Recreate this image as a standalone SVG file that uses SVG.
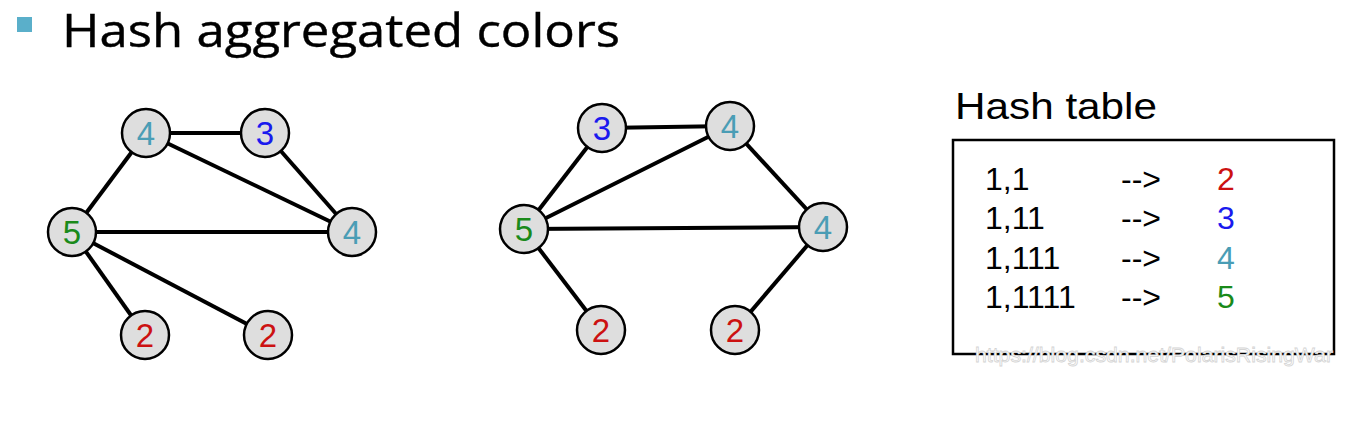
<svg xmlns="http://www.w3.org/2000/svg" width="1349" height="422" viewBox="0 0 1349 422">
<style>
.node circle{fill:#dedede;stroke:#000;stroke-width:2.5}
.node text{font-family:"Liberation Sans",Arial,sans-serif;font-size:33px;text-anchor:middle}
.edges line{stroke:#000;stroke-width:4}
.ht{font-family:"Liberation Sans",Arial,sans-serif;font-size:32px;fill:#000}
.c2{fill:#cc1111}.c3{fill:#1a1aee}.c4{fill:#4a9db5}.c5{fill:#1a8a1a}
</style>
<rect width="1349" height="422" fill="#fff"/>
<rect x="17" y="17" width="15" height="15" fill="#5aafca"/>
<text x="62" y="47" font-family="'Open Sans',sans-serif" font-size="46" fill="#000" stroke="#000" stroke-width="0.4" textLength="558" lengthAdjust="spacingAndGlyphs">Hash aggregated colors</text>
<g class="edges">
<line x1="146" y1="133" x2="265" y2="133"/>
<line x1="146" y1="133" x2="72" y2="232"/>
<line x1="146" y1="133" x2="352" y2="232"/>
<line x1="265" y1="133" x2="352" y2="232"/>
<line x1="72" y1="232" x2="352" y2="232"/>
<line x1="72" y1="232" x2="145" y2="335"/>
<line x1="72" y1="232" x2="268" y2="335"/>
<line x1="602" y1="128" x2="730" y2="126"/>
<line x1="602" y1="128" x2="524" y2="229"/>
<line x1="524" y1="229" x2="730" y2="126"/>
<line x1="730" y1="126" x2="823" y2="227"/>
<line x1="524" y1="229" x2="823" y2="227"/>
<line x1="524" y1="229" x2="601" y2="330"/>
<line x1="823" y1="227" x2="735" y2="330"/>
</g>
<g id="a4t" class="node"><circle cx="146" cy="133" r="24"/><text x="146" y="145" class="c4">4</text></g>
<g id="a3" class="node"><circle cx="265" cy="133" r="24"/><text x="265" y="145" class="c3">3</text></g>
<g id="a5" class="node"><circle cx="72" cy="232" r="24"/><text x="72" y="244" class="c5">5</text></g>
<g id="a4r" class="node"><circle cx="352" cy="232" r="24"/><text x="352" y="244" class="c4">4</text></g>
<g id="a2a" class="node"><circle cx="145" cy="335" r="24"/><text x="145" y="347" class="c2">2</text></g>
<g id="a2b" class="node"><circle cx="268" cy="335" r="24"/><text x="268" y="347" class="c2">2</text></g>
<g id="b3" class="node"><circle cx="602" cy="128" r="24"/><text x="602" y="140" class="c3">3</text></g>
<g id="b4t" class="node"><circle cx="730" cy="126" r="24"/><text x="730" y="138" class="c4">4</text></g>
<g id="b5" class="node"><circle cx="524" cy="229" r="24"/><text x="524" y="241" class="c5">5</text></g>
<g id="b4r" class="node"><circle cx="823" cy="227" r="24"/><text x="823" y="239" class="c4">4</text></g>
<g id="b2a" class="node"><circle cx="601" cy="330" r="24"/><text x="601" y="342" class="c2">2</text></g>
<g id="b2b" class="node"><circle cx="735" cy="330" r="24"/><text x="735" y="342" class="c2">2</text></g>
<g id="hashtable">
<text x="955" y="119" font-family="'Liberation Sans',Arial,sans-serif" font-size="37" fill="#000" textLength="202" lengthAdjust="spacingAndGlyphs">Hash table</text>
<rect x="953" y="140" width="381" height="214" fill="none" stroke="#000" stroke-width="2.5"/>
<text class="ht" x="985" y="190">1,1</text><text class="ht" x="1121" y="190">--&gt;</text><text class="ht c2" x="1217" y="190">2</text>
<text class="ht" x="985" y="229">1,11</text><text class="ht" x="1121" y="229">--&gt;</text><text class="ht c3" x="1217" y="229">3</text>
<text class="ht" x="985" y="269">1,111</text><text class="ht" x="1121" y="269">--&gt;</text><text class="ht c4" x="1217" y="269">4</text>
<text class="ht" x="985" y="308">1,1111</text><text class="ht" x="1121" y="308">--&gt;</text><text class="ht c5" x="1217" y="308">5</text>
</g>
<text x="975" y="362" font-family="'Liberation Sans',Arial,sans-serif" font-size="21" fill="#fff" stroke="#d4d4d4" stroke-width="0.8" textLength="358" lengthAdjust="spacingAndGlyphs">https://blog.csdn.net/PolarisRisingWar</text>
</svg>
